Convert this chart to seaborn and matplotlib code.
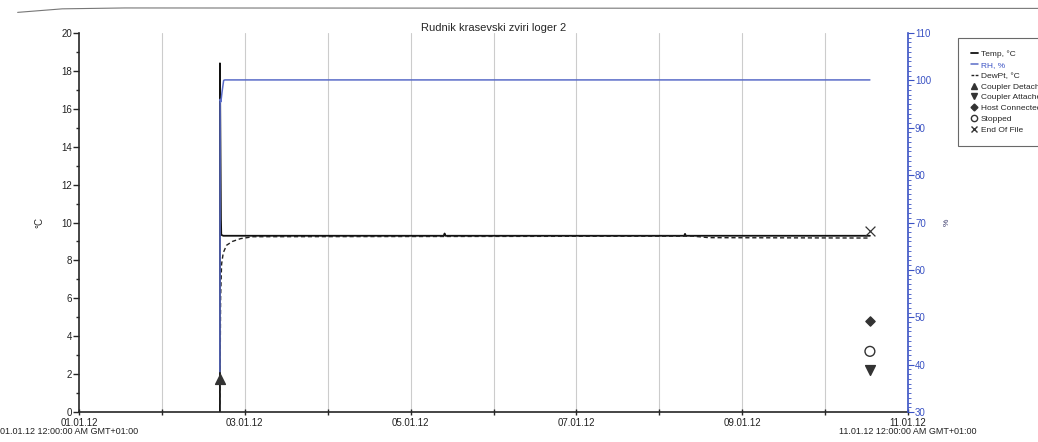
#! /usr/bin/env python3
import numpy as np
import pandas as pd
import seaborn as sns
import matplotlib.pyplot as plt
from matplotlib.lines import Line2D
from matplotlib.ticker import MultipleLocator

# time in days since 01.01.12 00:00
temp_t = [1.70, 1.700, 1.712, 1.716, 1.74, 4.40, 4.41, 4.42, 7.30, 7.31, 7.32, 9.54]
temp_v = [0.0, 18.4, 10.2, 9.35, 9.30, 9.30, 9.42, 9.30, 9.30, 9.40, 9.30, 9.30]

rh_t = [1.700, 1.702, 1.712, 1.725, 1.745, 1.76, 9.54]
rh_v = [38.5, 96.0, 95.5, 97.5, 100.0, 100.1, 100.1]

dew_t = [1.700, 1.708, 1.72, 1.74, 1.78, 1.85, 1.95, 2.10, 7.4, 7.6, 9.54]
dew_v = [0.4, 6.0, 7.8, 8.4, 8.8, 9.0, 9.15, 9.25, 9.28, 9.20, 9.18]

events = ["Coupler Detached", "Coupler Attached", "Host Connected", "Stopped", "End Of File"]
event_t = [1.70, 9.54, 9.54, 9.54, 9.54]
event_v = [1.75, 2.2, 4.8, 3.2, 9.55]

tick_days = [0, 2, 4, 6, 8, 10]
tick_labels = ["01.01.12", "03.01.12", "05.01.12", "07.01.12", "09.01.12", "11.01.12"]

title = "Rudnik krasevski zviri loger 2"

sns.set_style("ticks")
plt.rcParams['font.family'] = ['Liberation Sans', 'DejaVu Sans']

blue = "#3a52c4"
fig = plt.figure(figsize=(10.38, 4.42), dpi=100)
ax = fig.add_axes([0.0761, 0.0679, 0.7987, 0.8574])
ax2 = ax.twinx()

# Main series
sns.lineplot(x=temp_t, y=temp_v, color="#111111", lw=1.3, ax=ax, estimator=None, sort=False)
sns.lineplot(x=rh_t, y=rh_v, color="#5a6cc8", lw=1.1, ax=ax2, estimator=None, sort=False)
sns.lineplot(x=dew_t, y=dew_v, color="#222222", lw=1.0, ls=(0, (3, 2)), ax=ax,
             estimator=None, sort=False)

# Event markers
ev = pd.DataFrame({"t": event_t, "v": event_v, "event": events})
marks = {"Coupler Detached": "^", "Coupler Attached": "v", "Host Connected": "D",
         "Stopped": "o", "End Of File": "x"}
for _, r in ev.iterrows():
    m = marks[r.event]
    face = "none" if m == "o" else "#333333"
    sz = 22 if m == "D" else 50
    ax.scatter([r.t], [r.v], marker=m, s=sz, facecolors=face, edgecolors="#333333",
               linewidths=1.0 if m != "x" else 0.9, zorder=5)

# Axes
ax.set_xlim(0, 10)
ax.set_ylim(0, 20)
ax2.set_ylim(30, 110)
ax.set_xticks(tick_days)
ax.set_xticklabels(tick_labels)
ax.xaxis.set_minor_locator(MultipleLocator(1))
ax.yaxis.set_major_locator(MultipleLocator(2))
ax.yaxis.set_minor_locator(MultipleLocator(1))
ax2.yaxis.set_major_locator(MultipleLocator(10))
ax2.yaxis.set_minor_locator(MultipleLocator(1))
for d in range(1, 10):
    ax.axvline(d, color="#cccccc", lw=0.8, zorder=0)

ax.tick_params(axis="x", which="both", direction="inout", length=5, width=1, labelsize=7, pad=2)
ax.tick_params(axis="y", which="major", length=4, width=1, labelsize=7, pad=1)
ax.tick_params(axis="y", which="minor", length=2, width=1)
ax2.tick_params(axis="y", which="major", length=4, width=0.8, colors=blue, labelsize=7, pad=1)
ax2.tick_params(axis="y", which="minor", length=2, width=0.6, colors=blue)
for lab in ax.get_xticklabels() + ax.get_yticklabels():
    lab.set_color("#222222")

ax.spines["top"].set_visible(False)
ax2.spines["top"].set_visible(False)
ax.spines["right"].set_visible(False)
ax2.spines["left"].set_visible(False)
ax2.spines["right"].set_color(blue)
ax2.spines["right"].set_linewidth(1.2)
ax.spines["left"].set_linewidth(1.2)
ax.spines["bottom"].set_linewidth(1.2)
ax2.spines["bottom"].set_visible(False)

ax.set_xlabel("")
ax.set_ylabel("°C", fontsize=7, labelpad=12)
ax2.set_ylabel("%", fontsize=6, color="#333366", labelpad=9, rotation=90)
ax.set_title(title, fontsize=8, pad=1)

fig.text(0.0, 0.018, "01.01.12 12:00:00 AM GMT+01:00", fontsize=6.5, color="#222222")
fig.text(0.8748, 0.018, "11.01.12 12:00:00 AM GMT+01:00", fontsize=6.5, color="#222222",
         ha="center")

# Legend (the reference box runs off the right edge)
handles = [
    Line2D([], [], color="#111111", lw=1.3),
    Line2D([], [], color="#5a6cc8", lw=1.1),
    Line2D([], [], color="#222222", lw=1.0, ls=(0, (2, 1))),
    Line2D([], [], marker="^", color="#333333", ls="none", ms=4.5),
    Line2D([], [], marker="v", color="#333333", ls="none", ms=4.5),
    Line2D([], [], marker="D", color="#333333", ls="none", ms=3.5),
    Line2D([], [], marker="o", mfc="none", mec="#333333", ls="none", ms=4.5),
    Line2D([], [], marker="x", color="#333333", ls="none", ms=4.5),
]
labels = ["Temp, °C", "RH, %", "DewPt, °C"] + events
leg = fig.legend(handles, labels, loc="upper left", bbox_to_anchor=(0.923, 0.914),
                 fontsize=6.0, frameon=True, fancybox=False, handlelength=0.9,
                 handletextpad=0.3, labelspacing=0.35, borderpad=1.5, borderaxespad=0)
leg.get_frame().set_edgecolor("#444444")
leg.get_frame().set_linewidth(0.8)
leg.get_texts()[1].set_color(blue)

# scanned page edge at top
fig.add_artist(Line2D([0.017, 0.06, 0.12, 1.0], [0.972, 0.98, 0.982, 0.981],
                      color="#777777", lw=0.8, transform=fig.transFigure))

fig.savefig("out.png", dpi=100)
